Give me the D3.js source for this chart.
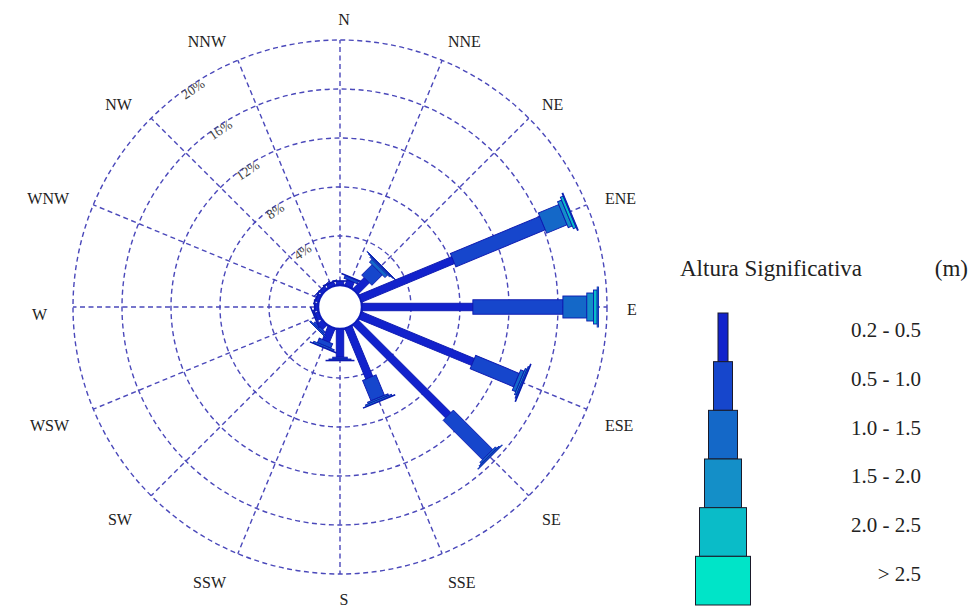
<!DOCTYPE html>
<html>
<head>
<meta charset="utf-8">
<script src="https://cdn.jsdelivr.net/npm/d3@7/dist/d3.min.js"></script>
<style>
  html, body { margin: 0; padding: 0; background: #fff; }
  svg { display: block; }
  text { font-family: "Liberation Serif", "DejaVu Serif", serif; fill: #222; }
</style>
</head>
<body>
<svg id="chart" width="973" height="607"></svg>
<script>
// Wave rose: frequency (%) of significant wave height classes per direction
const directions = ["N","NNE","NE","ENE","E","ESE","SE","SSE","S","SSW","SW","WSW","W","WNW","NW","NNW"];
const heightClasses = ["0.2 - 0.5","0.5 - 1.0","1.0 - 1.5","1.5 - 2.0","2.0 - 2.5","> 2.5"];

// frequency (%) for each height class, one value per direction (N .. NNW)
const hs_02_05 = [0.30, 0.50, 1.30, 8.20, 9.05, 9.95, 10.70, 4.45, 2.30, 1.20, 0.50, 0.30, 0.25, 0.25, 0.25, 0.30];
const hs_05_10 = [0.05, 0.25, 1.20, 7.90, 7.35, 3.85, 4.55, 1.80, 0.15, 0.40, 0.20, 0.10, 0.05, 0.05, 0.05, 0.05];
const hs_10_15 = [0.00, 0.05, 0.30, 1.80, 1.95, 0.30, 0.15, 0.15, 0.10, 0.15, 0.10, 0.05, 0.00, 0.00, 0.02, 0.00];
const hs_15_20 = [0.00, 0.00, 0.10, 0.35, 0.55, 0.15, 0.10, 0.12, 0.05, 0.05, 0.00, 0.00, 0.00, 0.00, 0.00, 0.00];
const hs_20_25 = [0.00, 0.00, 0.05, 0.25, 0.30, 0.10, 0.05, 0.05, 0.00, 0.00, 0.00, 0.00, 0.00, 0.00, 0.00, 0.00];
const hs_gt_25 = [0.00, 0.00, 0.04, 0.08, 0.10, 0.06, 0.00, 0.00, 0.00, 0.00, 0.00, 0.00, 0.00, 0.00, 0.00, 0.00];
const seriesByClass = [hs_02_05, hs_05_10, hs_10_15, hs_15_20, hs_20_25, hs_gt_25];

const ringTicks = [4, 8, 12, 16, 20];
const ringTickLabels = ["4%", "8%", "12%", "16%", "20%"];
const legendTitle = "Altura Significativa";
const legendUnit = "(m)";

const classColors = ["#1222cc", "#1646cc", "#1468c8", "#148fc8", "#0abcc8", "#00e4c8"];

const svg = d3.select("#chart");
const cx = 340, cy = 307;
const calmR = 22, outerR = 267;

const r = d3.scaleLinear().domain([0, 20]).range([calmR, outerR]);
const ang = d3.scalePoint().domain(directions).range([0, 360 - 22.5]);
// petal widths per height class
const barW = d3.scaleOrdinal().domain(heightClasses).range([7.5, 14.5, 22, 28, 34, 40]);
const color = d3.scaleOrdinal().domain(heightClasses).range(classColors);

const rose = svg.append("g").attr("transform", `translate(${cx},${cy})`);

// dashed grid: rings and direction spokes
const gridColor = "#4a48ba";
rose.append("g").selectAll("circle").data(ringTicks).join("circle")
  .attr("r", d => r(d)).attr("fill", "none")
  .attr("stroke", gridColor).attr("stroke-width", 1.4).attr("stroke-dasharray", "5 3.5");

rose.append("g").selectAll("line").data(directions).join("line")
  .attr("x1", 0).attr("y1", 0).attr("x2", 0).attr("y2", -outerR)
  .attr("transform", d => `rotate(${ang(d)})`)
  .attr("stroke", gridColor).attr("stroke-width", 1.4).attr("stroke-dasharray", "5 3.5");

// ring labels along a ray between N and NW
const labAng = -34;
rose.append("g").selectAll("text").data(ringTicks).join("text")
  .attr("transform", d => {
    const rr = r(d) - 4, a = labAng * Math.PI / 180;
    return `translate(${rr * Math.sin(a)},${-rr * Math.cos(a)}) rotate(${labAng})`;
  })
  .attr("text-anchor", "middle").attr("dy", "0.35em")
  .style("font-size", "13.5px").style("fill", "#444")
  .text((d, i) => ringTickLabels[i]);

// calm circle
rose.append("circle").attr("r", calmR).attr("fill", "#fff")
  .attr("stroke", "#1020c0").attr("stroke-width", 2.5);

// petals: stacked rectangles, one per height class
const petals = rose.append("g").selectAll("g").data(directions).join("g")
  .attr("transform", d => `rotate(${ang(d)})`);

petals.each(function(dir, di) {
  let cum = 0;
  const segs = [];
  heightClasses.forEach((hc, ci) => {
    const v = seriesByClass[ci][di];
    if (v > 0) segs.push({ hc, a: cum, b: cum + v });
    cum += v;
  });
  d3.select(this).selectAll("rect").data(segs).join("rect")
    .attr("x", s => -barW(s.hc) / 2)
    .attr("width", s => barW(s.hc))
    .attr("y", s => -r(s.b))
    .attr("height", s => r(s.b) - r(s.a))
    .attr("fill", s => color(s.hc))
    .attr("stroke", "#0c18b0").attr("stroke-width", 0.9);
});

// direction labels
const labR = 290, lcx = cx - 3, lcy = cy + 2;
svg.append("g").selectAll("text").data(directions).join("text")
  .attr("x", d => lcx + labR * Math.sin(ang(d) * Math.PI / 180) + (d === "N" || d === "S" ? 7 : 0))
  .attr("y", d => {
    const c = Math.cos(ang(d) * Math.PI / 180);
    return lcy - labR * c + (c < 0 && c > -0.99 ? 5 : 0);
  })
  .attr("dy", "0.35em")
  .attr("text-anchor", d => {
    const a = ang(d);
    if (a === 0 || a === 180) return "middle";
    return a < 180 ? "start" : "end";
  })
  .style("font-size", "16px")
  .text(d => d);

// legend
const lg = svg.append("g");
lg.append("text").attr("x", 680).attr("y", 276).style("font-size", "23px").text(legendTitle);
lg.append("text").attr("x", 968).attr("y", 276).attr("text-anchor", "end").style("font-size", "23px").text(legendUnit);

const legendW = d3.scaleOrdinal().domain(heightClasses).range([10, 19, 29, 37, 47, 55]);
const ly = d3.scaleBand().domain(heightClasses).range([313, 605]).padding(0);
lg.selectAll("rect").data(heightClasses).join("rect")
  .attr("x", d => 723 - legendW(d) / 2).attr("width", d => legendW(d))
  .attr("y", d => ly(d)).attr("height", ly.bandwidth())
  .attr("fill", d => color(d)).attr("stroke", "#1a1a2a").attr("stroke-width", 1);
lg.selectAll("text.cls").data(heightClasses).join("text").attr("class", "cls")
  .attr("x", 921).attr("y", d => ly(d) + ly.bandwidth() * 0.35)
  .attr("dy", "0.35em").attr("text-anchor", "end")
  .style("font-size", "21px").text(d => d);
</script>
</body>
</html>
